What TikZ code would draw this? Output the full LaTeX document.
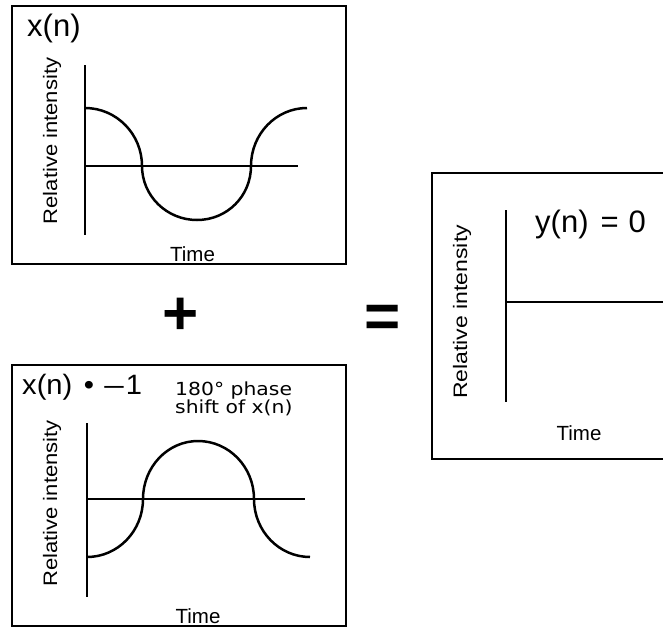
\documentclass[tikz,border=0pt]{standalone}
\usepackage{fontspec}
\usepackage{graphicx}
\setmainfont{Liberation Sans}
\newfontfamily\dvfont{DejaVu Sans}
\tikzset{
  frame/.style={draw=black, line width=2.2pt},
  axis/.style={line width=2pt},
  wave/.style={line width=2.5pt},
  title/.style={inner sep=0pt, font=\fontsize{31}{36}\selectfont},
  ylbl/.style={inner sep=0pt, rotate=90, anchor=base, font=\fontsize{19.5}{23}\selectfont},
  tlbl/.style={inner sep=0pt, anchor=base, font=\fontsize{20.5}{24}\selectfont},
  note/.style={inner sep=0pt, anchor=base west, align=left, font=\dvfont\fontsize{18}{17}\selectfont},
  opsym/.style={inner sep=0pt, font=\bfseries\fontsize{62}{70}\selectfont}
}
\begin{document}
\begin{tikzpicture}[x=1pt,y=-1pt]
\useasboundingbox (0,0) rectangle (663,629);
\clip (0,0) rectangle (663,629);

% ---------- top box: x(n)
\draw[frame] (12,6) rectangle (346,264);
\node[title, anchor=base west] (xn) at (27,36) {x(n)};
\node[ylbl] (ri1) at (57,141) {\scalebox{1.13}[1]{Relative intensity}};
\node[tlbl] (t1) at (192.5,261) {Time};
\coordinate (v1a) at (85,65);  \coordinate (v1b) at (85,235);
\coordinate (h1a) at (85,166); \coordinate (h1b) at (298,166);
\draw[axis] (v1a) -- (v1b);
\draw[axis] (h1a) -- (h1b);
\draw[wave] (85,108) .. controls (116.4,108) and (142,134) .. (142,166)
  .. controls (142,195.8) and (166.6,220) .. (197,220)
  .. controls (227.4,220) and (251,195.8) .. (251,166)
  .. controls (251,134) and (276.1,108) .. (307,108);

% ---------- operators
\node[opsym] (plus) at (181,316) {+};
\node[opsym] (eq) at (383,321) {=};

% ---------- bottom box: x(n) * -1
\draw[frame] (12,365) rectangle (346,626);
\node[title, anchor=base west, font=\fontsize{28}{32}\selectfont] (xneg) at (22,394)
  {\scalebox{1.04}[1]{x(n)\hspace{11pt}•\hspace{10pt}\scalebox{1.2}[1]{–}\hspace{2pt}1}};
\node[note] (ph1) at (175,395) {\scalebox{1.13}[1]{180° phase}};
\node[note] (ph2) at (175,413) {\scalebox{1.13}[1]{shift of x(n)}};
\node[ylbl] (ri2) at (57,503.5) {\scalebox{1.13}[1]{Relative intensity}};
\node[tlbl] (t2) at (198,623) {Time};
\coordinate (v2a) at (87,423);  \coordinate (v2b) at (87,597);
\coordinate (h2a) at (87,499);  \coordinate (h2b) at (305,499);
\draw[axis] (v2a) -- (v2b);
\draw[axis] (h2a) -- (h2b);
\draw[wave] (87,557) .. controls (117.9,557) and (143,531) .. (143,499)
  .. controls (143,467) and (167.6,441) .. (198,441)
  .. controls (229,441) and (254,467) .. (254,499)
  .. controls (254,531) and (279.1,557) .. (310,557);

% ---------- right box: y(n) = 0
\draw[frame] (432,173) rectangle (720,459);
\node[title, anchor=base west] (yn) at (535,232) {y(n)\hspace{12pt}=\hspace{10pt}0};
\node[ylbl] (ri3) at (467,312) {\scalebox{1.18}[1]{Relative intensity}};
\node[tlbl] (t3) at (579,440) {Time};
\coordinate (v3a) at (506,210);  \coordinate (v3b) at (506,402);
\coordinate (h3a) at (506,302);  \coordinate (h3b) at (670,302);
\draw[axis] (v3a) -- (v3b);
\draw[axis] (h3a) -- (h3b);
\end{tikzpicture}
\end{document}
